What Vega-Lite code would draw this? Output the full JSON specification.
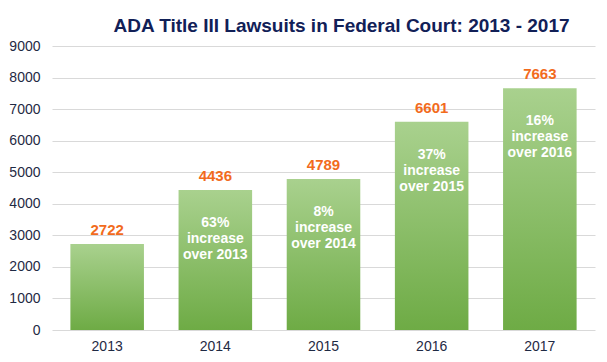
{
  "$schema": "https://vega.github.io/schema/vega-lite/v6.json",
  "autosize": {"type": "none"},
  "width": 543,
  "height": 284,
  "padding": {"left": 52, "top": 46, "right": 12, "bottom": 32},
  "background": "white",
  "title": {
    "text": "ADA Title III Lawsuits in Federal Court: 2013 - 2017",
    "font": "Liberation Sans",
    "fontSize": 19,
    "fontWeight": "bold",
    "color": "#112057",
    "anchor": "middle",
    "dx": 18,
    "offset": 3
  },
  "config": {
    "view": {"stroke": null},
    "font": "Liberation Sans"
  },
  "data": {
    "values": [
      {"year": "2013", "lawsuits": 2722, "note": ""},
      {"year": "2014", "lawsuits": 4436, "note": "63%\nincrease\nover 2013"},
      {"year": "2015", "lawsuits": 4789, "note": "8%\nincrease\nover 2014"},
      {"year": "2016", "lawsuits": 6601, "note": "37%\nincrease\nover 2015"},
      {"year": "2017", "lawsuits": 7663, "note": "16%\nincrease\nover 2016"}
    ]
  },
  "encoding": {
    "x": {
      "field": "year",
      "type": "nominal",
      "scale": {"paddingInner": 0.32, "paddingOuter": 0.17},
      "axis": {
        "title": null,
        "labelAngle": 0,
        "domain": false,
        "ticks": false,
        "labelFontSize": 14,
        "labelColor": "#1f2a44",
        "labelPadding": 9
      }
    },
    "y": {
      "field": "lawsuits",
      "type": "quantitative",
      "scale": {"domain": [0, 9000]},
      "axis": {
        "title": null,
        "values": [0, 1000, 2000, 3000, 4000, 5000, 6000, 7000, 8000, 9000],
        "format": "d",
        "domain": false,
        "ticks": false,
        "labelFontSize": 14,
        "labelColor": "#1f2a44",
        "labelPadding": 12,
        "gridColor": "#d9d9d9",
        "gridWidth": 1
      }
    }
  },
  "layer": [
    {
      "mark": {
        "type": "bar",
        "color": {
          "gradient": "linear",
          "x1": 0, "y1": 0, "x2": 0, "y2": 1,
          "stops": [
            {"offset": 0, "color": "#a9d18e"},
            {"offset": 1, "color": "#6eab45"}
          ]
        }
      }
    },
    {
      "mark": {
        "type": "text",
        "baseline": "bottom",
        "dy": -6,
        "fontSize": 15,
        "fontWeight": "bold",
        "color": "#f26b1d"
      },
      "encoding": {"text": {"field": "lawsuits", "type": "quantitative", "format": "d"}}
    },
    {
      "mark": {
        "type": "text",
        "baseline": "top",
        "dy": 26,
        "fontSize": 14,
        "fontWeight": "bold",
        "color": "white",
        "lineBreak": "\n",
        "lineHeight": 16
      },
      "encoding": {"text": {"field": "note", "type": "nominal"}}
    }
  ]
}
